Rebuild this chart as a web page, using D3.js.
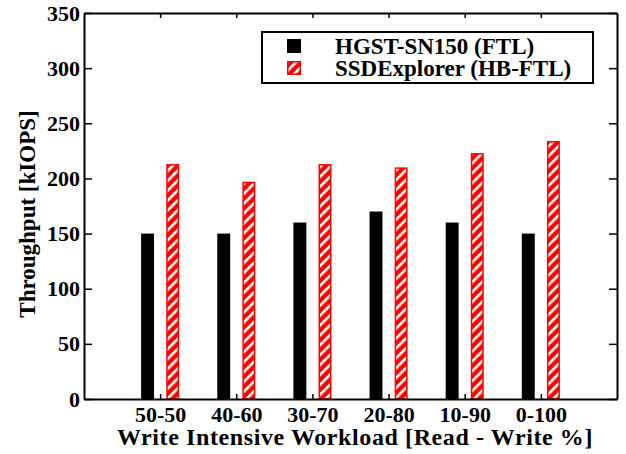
<!DOCTYPE html>
<html>
<head>
<meta charset="utf-8">
<script src="https://cdn.jsdelivr.net/npm/d3@7"></script>
<style>
  body { margin: 0; background: #fff; }
  text { font-family: "Liberation Serif", "Times New Roman", serif; font-weight: bold; }
</style>
</head>
<body>
<div id="chart"></div>
<script>
// data
var categories = ["50-50", "40-60", "30-70", "20-80", "10-90", "0-100"];
var hgst_values = [150, 150, 160, 170, 160, 150];
var ssdexp_values = [213, 197, 213, 210, 223, 234];
var series_names = ["HGST-SN150 (FTL)", "SSDExplorer (HB-FTL)"];
var y_ticks = [0, 50, 100, 150, 200, 250, 300, 350];

var W = 626, H = 454;
var m_left = 84, m_right = 617, m_top = 13, m_bottom = 399;

var svg = d3.select("#chart").append("svg")
	.attr("width", W)
	.attr("height", H);

// hatch pattern
var defs = svg.append("defs");
var pat = defs.append("pattern")
	.attr("id", "hatch")
	.attr("patternUnits", "userSpaceOnUse")
	.attr("width", 7)
	.attr("height", 7)
	.attr("patternTransform", "rotate(45)");
pat.append("rect").attr("width", 7).attr("height", 7).attr("fill", "#ff0000");
pat.append("rect").attr("x", 0).attr("width", 2.6).attr("height", 7).attr("fill", "#fff");

// scales: categories sit at 1..6 on a 0..7 axis
var x = d3.scaleLinear().domain([0, categories.length + 1]).range([m_left, m_right]);
var y = d3.scaleLinear().domain([0, 350]).range([m_bottom, m_top]);

var off_in = 0.08, off_out = 0.25;

// bars
svg.append("g").selectAll("rect")
	.data(hgst_values)
	.join("rect")
	.attr("x", (d, i) => x(i + 1 - off_out))
	.attr("width", (d, i) => x(i + 1 - off_in) - x(i + 1 - off_out))
	.attr("y", d => y(d))
	.attr("height", d => y(0) - y(d))
	.attr("fill", "#000");

svg.append("g").selectAll("rect")
	.data(ssdexp_values)
	.join("rect")
	.attr("x", (d, i) => x(i + 1 + off_in) + 0.75)
	.attr("width", (d, i) => x(i + 1 + off_out) - x(i + 1 + off_in) - 1.5)
	.attr("y", d => y(d) + 0.75)
	.attr("height", d => y(0) - y(d) - 0.75)
	.attr("fill", "url(#hatch)")
	.attr("stroke", "#ff0000")
	.attr("stroke-width", 1.5);

// axes
var cat_ticks = d3.range(1, categories.length + 1);

var yAxisL = svg.append("g")
	.attr("transform", "translate(" + m_left + ",0)")
	.call(d3.axisLeft(y).tickValues(y_ticks).tickSizeInner(-8).tickSizeOuter(0).tickPadding(4));
var yAxisR = svg.append("g")
	.attr("transform", "translate(" + m_right + ",0)")
	.call(d3.axisRight(y).tickValues(y_ticks).tickSizeInner(-8).tickSizeOuter(0).tickFormat(""));
var xAxisB = svg.append("g")
	.attr("transform", "translate(0," + m_bottom + ")")
	.call(d3.axisBottom(x).tickValues(cat_ticks).tickSizeInner(-5).tickSizeOuter(0)
		.tickPadding(7).tickFormat(d => categories[d - 1]));
var xAxisT = svg.append("g")
	.attr("transform", "translate(0," + m_top + ")")
	.call(d3.axisTop(x).tickValues(cat_ticks).tickSizeInner(-5).tickSizeOuter(0).tickFormat(""));

[yAxisL, yAxisR, xAxisB, xAxisT].forEach(function(a){
	a.select(".domain").attr("stroke", "#000").attr("stroke-width", 2);
	a.selectAll(".tick line").attr("stroke", "#000").attr("stroke-width", 1.5);
	a.selectAll(".tick text")
		.attr("fill", "#000")
		.style("font-size", "22px");
});
xAxisB.selectAll(".tick text").attr("dy", "0.71em");

// axis titles
svg.append("text")
	.attr("x", 355)
	.attr("y", 445)
	.attr("text-anchor", "middle")
	.style("font-size", "24px")
	.style("letter-spacing", "0.6px")
	.text("Write Intensive Workload [Read - Write %]");

svg.append("text")
	.attr("transform", "translate(35,214) rotate(-90)")
	.attr("text-anchor", "middle")
	.style("font-size", "23px")
	.text("Throughput [kIOPS]");

// legend
var lg = svg.append("g");
lg.append("rect")
	.attr("x", 262).attr("y", 32)
	.attr("width", 331).attr("height", 51)
	.attr("fill", "#fff")
	.attr("stroke", "#000")
	.attr("stroke-width", 2);
var legend_fill = ["#000", "url(#hatch)"];
series_names.forEach(function(name, i){
	var yy = 39 + i * 22;
	lg.append("rect")
		.attr("x", 287 + (i ? 0.75 : 0)).attr("y", yy + (i ? 0.75 : 0))
		.attr("width", i ? 12.5 : 14).attr("height", i ? 12.5 : 14)
		.attr("fill", legend_fill[i])
		.attr("stroke", i ? "#ff0000" : "none")
		.attr("stroke-width", 1.5);
	lg.append("text")
		.attr("x", 335).attr("y", yy + 15)
		.style("font-size", "23px")
		.text(name);
});
</script>
</body>
</html>
